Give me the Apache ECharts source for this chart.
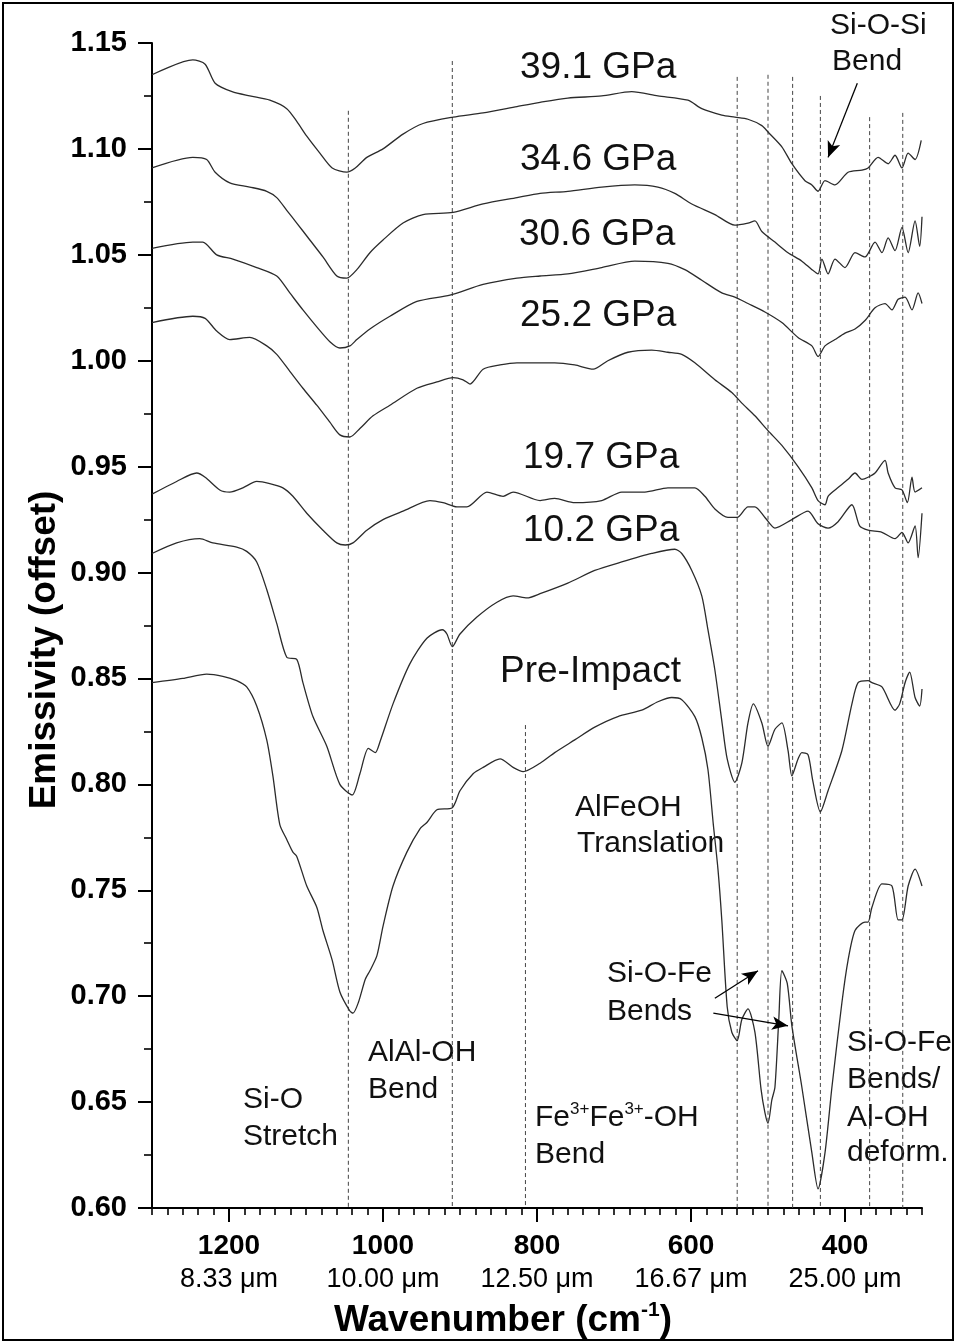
<!DOCTYPE html>
<html><head><meta charset="utf-8">
<script src="https://cdn.jsdelivr.net/npm/echarts@6/dist/echarts.min.js"></script>
<style>html,body{margin:0;padding:0;background:#fff}#c{width:956px;height:1343px}</style>
</head><body><div id="c"></div>
<script>
// ---------- DATA ----------
const wn391 = [1300,1247,1231,1218,1196,1173,1147,1125,1112,1099,1082,1066,1047,1036,1021,1000,974,948,909,870,826,796,760,716,677,643,604,586,560,543,526,508,500,482,469,452,443,435,426,413,396,378,370,357,344,335,326,318,309,301];
const em391 = [1.135,1.142,1.140,1.131,1.127,1.125,1.123,1.119,1.113,1.106,1.098,1.091,1.089,1.091,1.096,1.100,1.107,1.112,1.115,1.117,1.120,1.122,1.124,1.125,1.127,1.125,1.123,1.119,1.116,1.115,1.114,1.111,1.108,1.101,1.093,1.085,1.083,1.080,1.085,1.083,1.089,1.090,1.091,1.096,1.093,1.097,1.091,1.098,1.095,1.104];

const wn346 = [1300,1247,1229,1218,1199,1173,1151,1138,1125,1112,1095,1078,1060,1047,1034,1017,1000,974,948,909,870,826,796,760,716,673,643,621,599,569,543,526,517,508,491,474,456,443,435,430,422,413,400,387,374,361,352,344,335,326,318,309,303,300];
const em346 = [1.091,1.096,1.095,1.089,1.084,1.082,1.080,1.077,1.071,1.065,1.057,1.049,1.040,1.039,1.043,1.051,1.057,1.065,1.069,1.070,1.074,1.077,1.079,1.080,1.082,1.083,1.082,1.079,1.074,1.069,1.064,1.065,1.066,1.061,1.056,1.051,1.047,1.043,1.041,1.048,1.041,1.048,1.044,1.051,1.049,1.056,1.051,1.058,1.052,1.063,1.051,1.066,1.054,1.068];

const wn306 = [1300,1247,1234,1216,1195,1164,1138,1121,1104,1086,1069,1056,1043,1034,1017,991,956,913,870,826,796,760,716,673,630,608,586,560,543,526,504,482,461,443,435,426,413,400,387,374,361,348,339,331,322,313,305,300];
const em306 = [1.053,1.056,1.056,1.050,1.048,1.044,1.040,1.032,1.024,1.016,1.009,1.006,1.007,1.010,1.015,1.021,1.028,1.031,1.036,1.039,1.040,1.041,1.044,1.047,1.046,1.043,1.038,1.032,1.030,1.027,1.023,1.018,1.011,1.007,1.002,1.007,1.010,1.013,1.015,1.019,1.025,1.027,1.024,1.029,1.030,1.024,1.032,1.027];

const wn252 = [1300,1247,1231,1216,1199,1173,1151,1138,1121,1104,1086,1069,1056,1043,1030,1013,991,956,930,909,896,887,870,848,826,796,777,751,727,708,682,651,630,612,595,569,547,534,517,500,482,461,443,435,426,422,413,396,387,378,370,361,348,344,335,326,319,313,309,300];
const em252 = [1.018,1.021,1.020,1.014,1.010,1.011,1.007,1.003,0.995,0.987,0.979,0.971,0.965,0.964,0.968,0.974,0.979,0.987,0.990,0.992,0.991,0.989,0.996,0.998,0.999,0.999,0.999,0.998,0.996,1.000,1.004,1.005,1.004,1.003,0.999,0.991,0.985,0.980,0.974,0.967,0.960,0.950,0.940,0.934,0.932,0.936,0.939,0.944,0.947,0.944,0.945,0.947,0.953,0.947,0.940,0.939,0.933,0.945,0.938,0.940];

const wn197 = [1300,1268,1242,1231,1212,1199,1182,1164,1147,1130,1117,1099,1078,1060,1049,1039,1021,1000,974,939,922,904,891,865,844,831,796,777,751,716,690,660,630,595,582,569,552,540,526,517,504,491,469,448,435,422,409,391,381,370,352,335,326,318,309,305,300];
const em197 = [0.937,0.943,0.947,0.945,0.939,0.938,0.940,0.943,0.942,0.940,0.936,0.928,0.920,0.914,0.913,0.914,0.920,0.925,0.929,0.934,0.933,0.931,0.931,0.938,0.936,0.938,0.934,0.935,0.933,0.934,0.938,0.938,0.940,0.940,0.936,0.930,0.926,0.926,0.931,0.931,0.926,0.921,0.925,0.929,0.923,0.921,0.924,0.932,0.922,0.920,0.919,0.916,0.919,0.914,0.922,0.907,0.928];

const wn102 = [1300,1268,1238,1221,1190,1177,1164,1151,1138,1125,1112,1104,1091,1073,1056,1040,1030,1019,1010,1004,987,965,943,923,917,910,900,878,852,831,813,796,760,725,690,651,621,612,599,586,578,569,560,553,543,534,526,519,508,500,491,482,474,469,461,456,448,442,432,422,404,391,383,370,365,352,335,329,322,316,309,303,300];
const em102 = [0.909,0.914,0.916,0.914,0.912,0.910,0.905,0.892,0.876,0.860,0.859,0.848,0.832,0.818,0.800,0.795,0.805,0.817,0.815,0.820,0.838,0.857,0.869,0.873,0.871,0.865,0.871,0.879,0.886,0.889,0.888,0.890,0.895,0.901,0.905,0.909,0.911,0.909,0.901,0.889,0.873,0.854,0.830,0.812,0.801,0.810,0.829,0.838,0.829,0.818,0.826,0.829,0.816,0.804,0.812,0.815,0.814,0.802,0.787,0.797,0.816,0.838,0.848,0.849,0.848,0.846,0.835,0.838,0.848,0.853,0.841,0.837,0.845];

const wnPre = [1300,1260,1229,1208,1190,1177,1164,1151,1143,1134,1125,1117,1112,1099,1086,1078,1066,1056,1043,1039,1032,1023,1017,1008,1000,987,969,952,943,930,910,900,883,870,848,831,818,796,777,751,725,695,664,643,625,612,595,586,578,571,565,560,553,547,540,534,526,517,509,504,500,495,491,486,482,475,469,456,443,435,426,417,404,396,387,374,370,365,352,339,331,326,318,309,300];
const emPre = [0.848,0.850,0.852,0.851,0.849,0.846,0.837,0.821,0.804,0.781,0.774,0.768,0.766,0.752,0.742,0.731,0.717,0.702,0.693,0.692,0.697,0.708,0.712,0.719,0.733,0.752,0.768,0.779,0.782,0.788,0.789,0.797,0.805,0.808,0.812,0.808,0.806,0.810,0.815,0.821,0.827,0.832,0.835,0.839,0.841,0.840,0.832,0.822,0.807,0.781,0.760,0.736,0.695,0.683,0.679,0.689,0.694,0.683,0.656,0.645,0.640,0.651,0.657,0.689,0.712,0.706,0.686,0.657,0.626,0.609,0.626,0.657,0.697,0.717,0.731,0.735,0.735,0.742,0.753,0.752,0.736,0.736,0.752,0.760,0.752];

const seriesNames = ['39.1 GPa','34.6 GPa','30.6 GPa','25.2 GPa','19.7 GPa','10.2 GPa','Pre-Impact'];

// vertical dashed reference lines (wavenumber, top emissivity)
const dashX   = [1045, 910, 815, 540, 500, 468, 432, 368, 325];
const dashTop = [1.118, 1.1415, 0.828, 1.134, 1.135, 1.134, 1.125, 1.115, 1.117];

// x tick values and their wavelength labels
const xTickValues = [400, 600, 800, 1000, 1200];
const xTickMicron = ['25.00', '16.67', '12.50', '10.00', '8.33'];

// arrows: [fromWn, fromEm, toWn, toEm]
const arrows = [
  [384, 1.131, 422, 1.096],
  [569, 0.699, 513, 0.712],
  [571, 0.692, 474, 0.686]
];

// ---------- CHART ----------
const FONT = "'Liberation Sans', Arial, Helvetica, sans-serif";
const zip = (w, e) => w.map((x, i) => [x, e[i]]);
const curves = [[wn391,em391],[wn346,em346],[wn306,em306],[wn252,em252],[wn197,em197],[wn102,em102],[wnPre,emPre]];

const series = [];
curves.forEach((c, i) => {
  series.push({
    name: seriesNames[i], type: 'line', data: zip(c[0], c[1]),
    symbol: 'none', smooth: 0.25, silent: true,
    lineStyle: { color: '#2b2b2b', width: 1.3 }
  });
});
dashX.forEach((x, i) => {
  series.push({
    type: 'line', data: [[x, dashTop[i]], [x, 0.6]], symbol: 'none', silent: true,
    lineStyle: { color: '#444', width: 1, type: [4, 3] }, z: 1
  });
});
series.push({
  type: 'line', data: [], silent: true,
  markLine: {
    silent: true, animation: false, symbol: ['none', 'arrow'], symbolSize: [10, 16],
    label: { show: false },
    lineStyle: { color: '#000', width: 1.3, type: 'solid' },
    data: arrows.map(a => [{ coord: [a[0], a[1]] }, { coord: [a[2], a[3]] }])
  }
});

const txt = (x, y, text, size, extra, el) => Object.assign({
  type: 'text', x: x, y: y, silent: true,
  style: Object.assign({ text: text, fontSize: size, fontFamily: FONT, fill: '#111',
    align: 'left', verticalAlign: 'middle', textAlign: 'left', textVerticalAlign: 'middle' }, extra || {})
}, el || {});

const graphics = [
  { type: 'rect', shape: { x: 3, y: 3, width: 950, height: 1337 }, style: { fill: 'none', stroke: '#000', lineWidth: 2 }, silent: true },
  txt(520, 68, '39.1 GPa', 37),
  txt(520, 160, '34.6 GPa', 37),
  txt(519, 235, '30.6 GPa', 37),
  txt(520, 316, '25.2 GPa', 37),
  txt(523, 458, '19.7 GPa', 37),
  txt(523, 531, '10.2 GPa', 37),
  txt(500, 672, 'Pre-Impact', 37),
  txt(830, 26, 'Si-O-Si', 30),
  txt(832, 62, 'Bend', 30),
  txt(575, 808, 'AlFeOH', 30),
  txt(577, 844, 'Translation', 30),
  txt(607, 974, 'Si-O-Fe', 30),
  txt(607, 1012, 'Bends', 30),
  txt(847, 1043, 'Si-O-Fe', 30),
  txt(847, 1080, 'Bends/', 30),
  txt(847, 1118, 'Al-OH', 30),
  txt(847, 1153, 'deform.', 30),
  txt(535, 1118, '{n|Fe}{s|3+}{n|Fe}{s|3+}{n|-OH}', 30, {
    rich: { n: { fontSize: 30, fontFamily: FONT, lineHeight: 34, fill: '#111' },
            s: { fontSize: 17, fontFamily: FONT, lineHeight: 18, verticalAlign: 'top', fill: '#111' } } }),
  txt(535, 1155, 'Bend', 30),
  txt(368, 1053, 'AlAl-OH', 30),
  txt(368, 1090, 'Bend', 30),
  txt(243, 1100, 'Si-O', 30),
  txt(243, 1137, 'Stretch', 30),
  // axis titles
  txt(45, 650, 'Emissivity (offset)', 37, { fontWeight: 'bold', fill: '#000', align: 'center', textAlign: 'center' }, { rotation: Math.PI / 2 }),
  txt(503, 1321, '{b|Wavenumber (cm}{s|-1}{b|)}', 37, {
    align: 'center', textAlign: 'center',
    rich: {
      b: { fontSize: 37, fontWeight: 'bold', fontFamily: FONT, lineHeight: 42, fill: '#000' },
      s: { fontSize: 21, fontWeight: 'bold', fontFamily: FONT, lineHeight: 22, verticalAlign: 'top', fill: '#000' }
    }
  })
];

const chart = echarts.init(document.getElementById('c'), null, { renderer: 'canvas' });
chart.setOption({
  animation: false,
  backgroundColor: '#fff',
  grid: { left: 152, right: 34, top: 43, bottom: 135, containLabel: false },
  xAxis: [
    {
      type: 'value', min: 300, max: 1300, inverse: true, position: 'bottom',
      axisLine: { show: true, onZero: false, lineStyle: { color: '#000', width: 2 } },
      axisTick: { show: true, customValues: xTickValues, length: 14, lineStyle: { color: '#000', width: 2 } },
      axisLabel: {
        customValues: xTickValues, margin: 21, color: '#000',
        formatter: v => '{a|' + v + '}\n{b|' + xTickMicron[xTickValues.indexOf(v)] + ' μm}',
        rich: {
          a: { fontSize: 28, fontWeight: 'bold', fontFamily: FONT, lineHeight: 34, color: '#000' },
          b: { fontSize: 27, fontFamily: FONT, lineHeight: 34, color: '#000' }
        }
      },
      splitLine: { show: false }
    },
    {
      type: 'value', min: 300, max: 1300, interval: 20, inverse: true, position: 'bottom', gridIndex: 0,
      axisLine: { show: false, onZero: false },
      axisTick: { show: true, length: 7, lineStyle: { color: '#000', width: 1.6 } },
      axisLabel: { show: false }, splitLine: { show: false }
    }
  ],
  yAxis: {
    type: 'value', min: 0.6, max: 1.15, interval: 0.05,
    axisLine: { show: true, onZero: false, lineStyle: { color: '#000', width: 2 } },
    axisTick: { show: true, length: 14, lineStyle: { color: '#000', width: 2 } },
    minorTick: { show: true, splitNumber: 2, length: 8, lineStyle: { color: '#000', width: 1.6 } },
    axisLabel: { formatter: v => v.toFixed(2), fontSize: 29, fontWeight: 'bold', fontFamily: FONT, color: '#000', margin: 25 },
    splitLine: { show: false }, minorSplitLine: { show: false }
  },
  series: series,
  graphic: graphics
});
</script>
</body></html>
